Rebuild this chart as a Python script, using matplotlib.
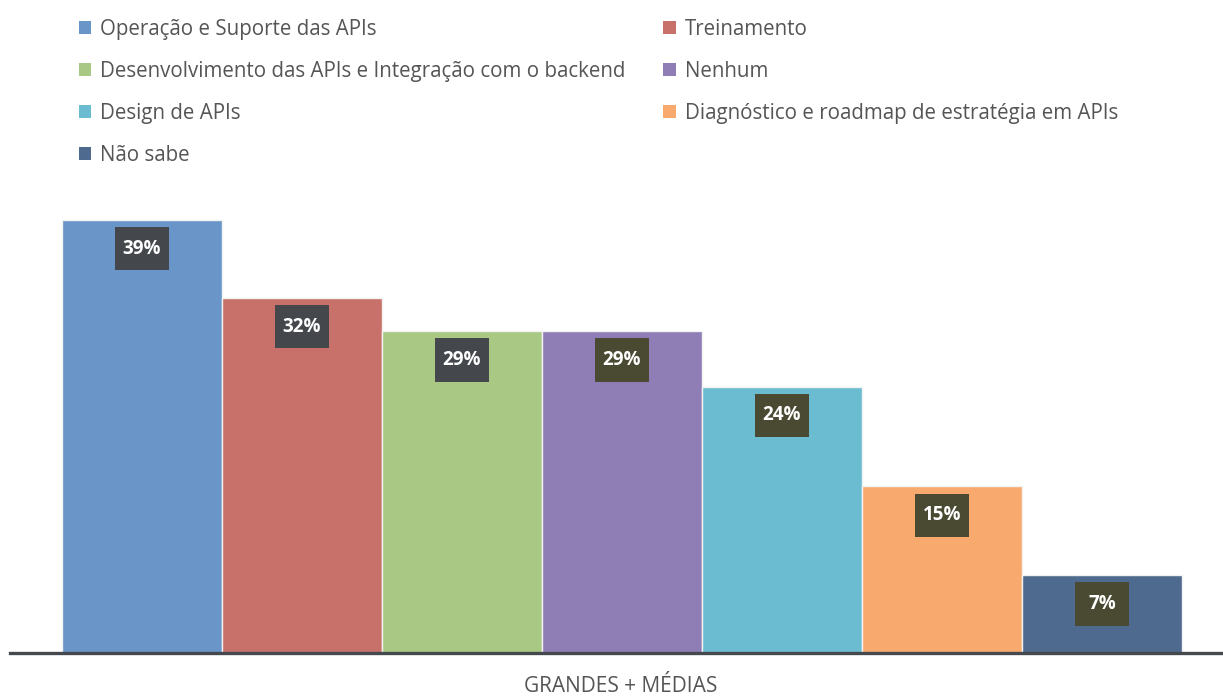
import matplotlib.pyplot as plt
from matplotlib.patches import Patch

categorias = ['Operação e Suporte das APIs', 'Treinamento',
              'Desenvolvimento das APIs e Integração com o backend', 'Nenhum',
              'Design de APIs', 'Diagnóstico e roadmap de estratégia em APIs',
              'Não sabe']
valores = [39, 32, 29, 29, 24, 15, 7]
cores = ['#6a95c8', '#c8716a', '#a8c884', '#8f7db5', '#6bbcd1', '#f8aa6e', '#4e6a8e']
cores_caixa = ['#44484d', '#44484d', '#44484d', '#4a4a32', '#4a4a32', '#4a4a32', '#4a4a32']
grupo = 'GRANDES + MÉDIAS'

plt.rcParams['font.family'] = ['Open Sans', 'DejaVu Sans']

fig = plt.figure(figsize=(12.23, 6.97), dpi=100)
# eixo posicionado em pixels: base em y=653, de x=10 ate a borda direita
ax = fig.add_axes([10/1223, 44/697, 1 - 10/1223, 483/697])

x = list(range(len(valores)))
ax.bar(x, valores, width=1.0, color=cores, edgecolor='#f2f2f2', linewidth=1.0)

# rotulos em caixinhas escuras logo abaixo do topo de cada barra
alt_caixa = 3.9
for xi, v, cc in zip(x, valores, cores_caixa):
    centro = v - 2.6
    ax.bar(xi, alt_caixa, bottom=centro - alt_caixa/2, width=0.34, color=cc)
    ax.text(xi, centro, f'{v}%', ha='center', va='center', color='white',
            fontsize=13.5, fontweight='bold')

ax.set_xlim(-0.825, 6.756)
ax.set_ylim(0, 43.5)
for s in ['top', 'right', 'left']:
    ax.spines[s].set_visible(False)
ax.spines['bottom'].set_color('#45494d')
ax.spines['bottom'].set_linewidth(2.4)
ax.set_xticks([])
ax.set_yticks([])

fig.text(621/1223, 1 - 687/697, grupo, ha='center', va='center',
         color='#555555', fontsize=15)

# legenda em duas colunas, lida por linha
ordem = [0, 2, 4, 6, 1, 3, 5]
handles = [Patch(facecolor=cores[i], edgecolor='none') for i in ordem]
labels = [categorias[i] for i in ordem]
fig.legend(handles, labels, ncol=2, loc='upper left',
           bbox_to_anchor=(60/1223, 1 - 0.5/697), frameon=False,
           fontsize=14.8, labelcolor='#555555',
           handlelength=0.62, handleheight=0.62, handletextpad=0.45,
           columnspacing=1.8, labelspacing=1.02)

fig.savefig('out.png', dpi=100)
